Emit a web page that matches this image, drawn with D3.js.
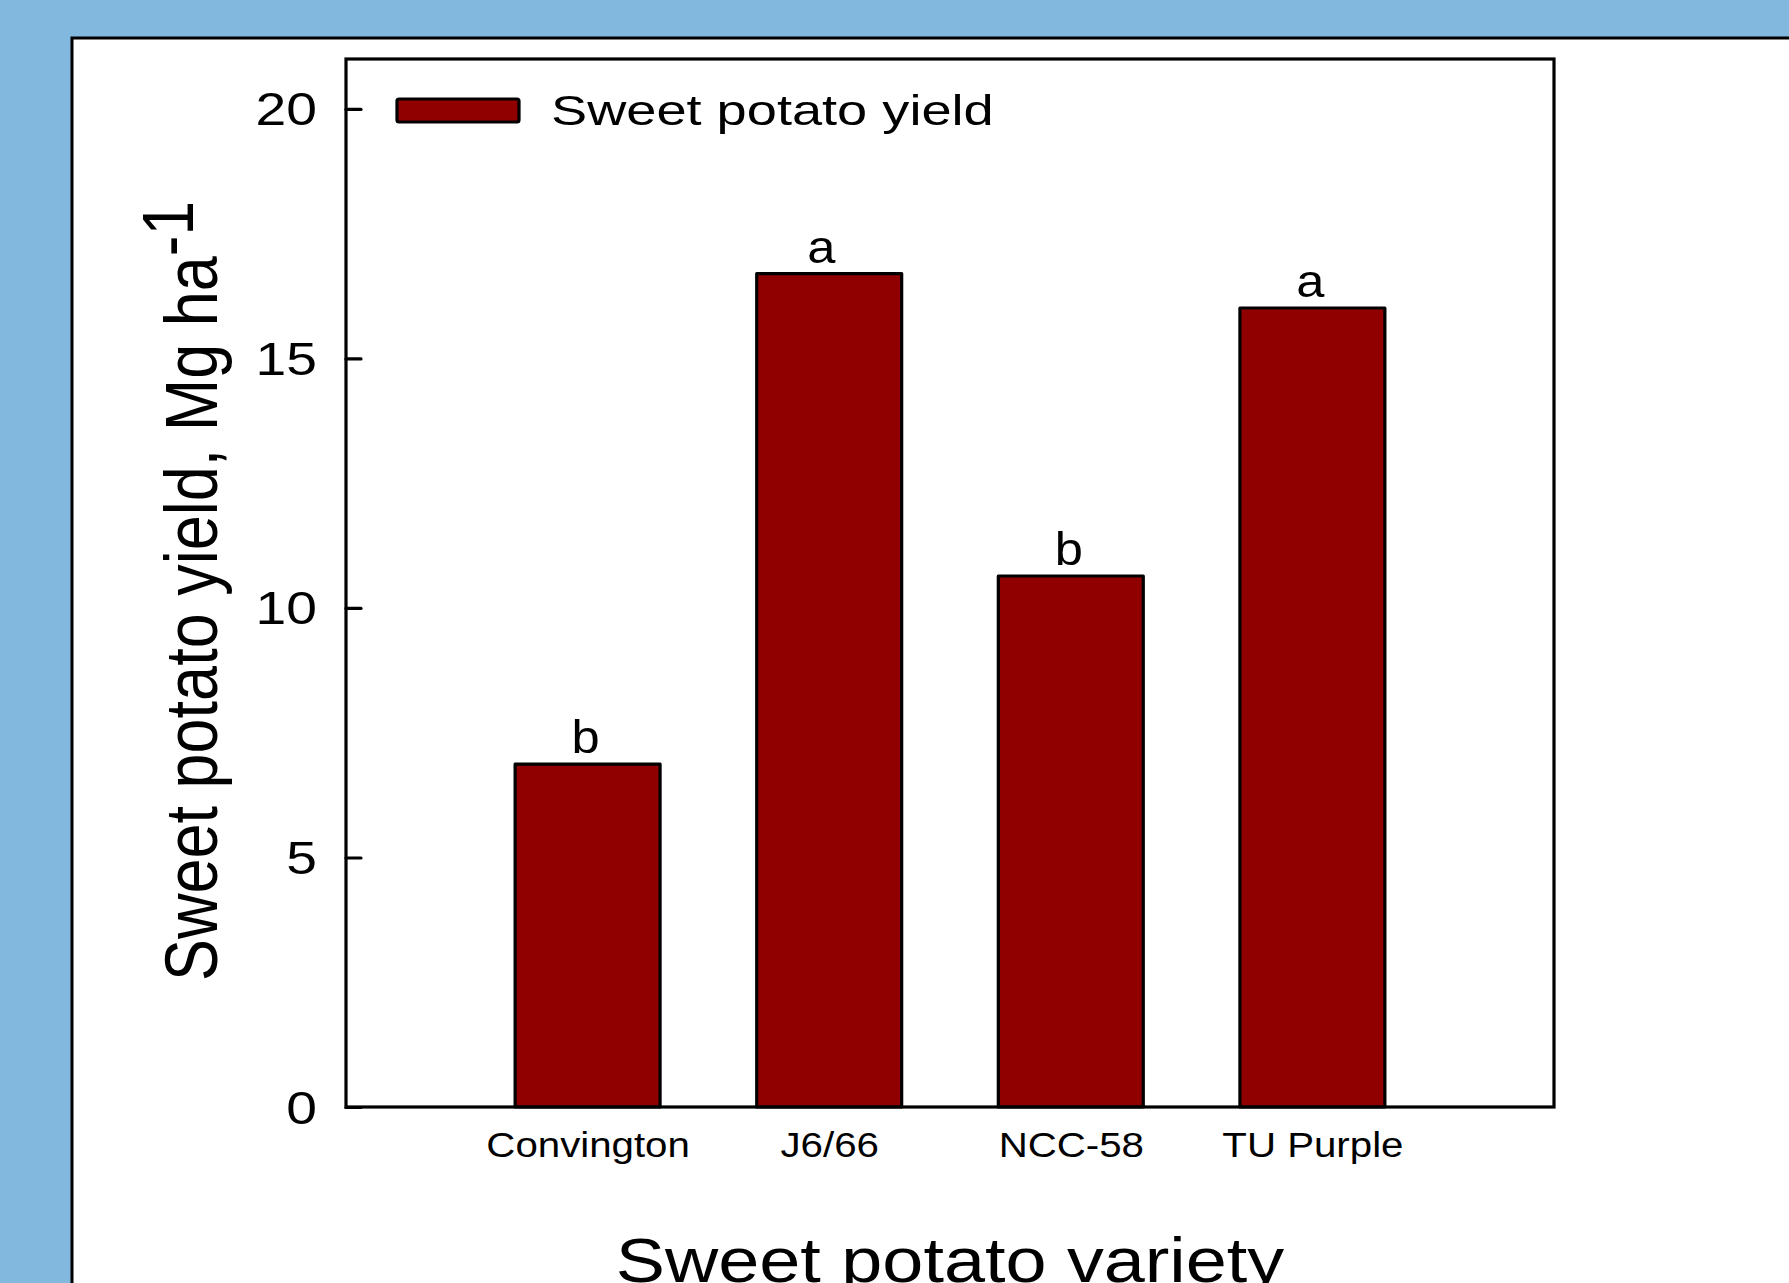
<!DOCTYPE html>
<html>
<head>
<meta charset="utf-8">
<script src="https://cdn.jsdelivr.net/npm/d3@7"></script>
<style>
  html, body { margin: 0; padding: 0; background: #82b7de; overflow: hidden; }
  svg { display: block; }
  text { font-family: "Liberation Sans", Arial, sans-serif; fill: #000; }
</style>
</head>
<body>
<svg id="chart" width="1789" height="1283"></svg>
<script>
// ---- data ----
const categories = ["Convington", "J6/66", "NCC-58", "TU Purple"];
const yieldValues = [6.87, 16.70, 10.64, 16.01];
const groupLetters = ["b", "a", "b", "a"];
const yTicks = [0, 5, 10, 15, 20];
const seriesName = "Sweet potato yield";
const yTitle = "Sweet potato yield, Mg ha";
const yTitleSup = "-1";
const xTitle = "Sweet potato variety";

// ---- layout ----
const W = 1789, H = 1283;
const frame = { left: 346, right: 1554, top: 59, bottom: 1107 };
const barColor = "#900000";

const svg = d3.select("#chart");

// background + white panel
svg.append("rect").attr("x", 0).attr("y", 0).attr("width", W).attr("height", H).attr("fill", "#82b7de");
svg.append("rect").attr("x", 72).attr("y", 38).attr("width", W).attr("height", H)
  .attr("fill", "#fff").attr("stroke", "#000").attr("stroke-width", 3);

const x = d3.scalePoint().domain(categories).range([frame.left, frame.right]).padding(1);
const y = d3.scaleLinear().domain([0, 21]).range([frame.bottom, frame.top]);
const barW = x.step() * 0.6;

// bars
const data = categories.map((c, i) => ({ c, v: yieldValues[i], g: groupLetters[i] }));
svg.append("g").selectAll("rect").data(data).join("rect")
  .attr("x", d => x(d.c) - barW / 2)
  .attr("y", d => y(d.v))
  .attr("width", barW)
  .attr("height", d => y(0) - y(d.v))
  .attr("fill", barColor)
  .attr("stroke", "#000")
  .attr("stroke-width", 3.2)
  .attr("stroke-linejoin", "round");

// helper for horizontally stretched text
function stretched(sel, tx, ty, k) {
  return sel.attr("x", 0).attr("y", 0).attr("transform", `translate(${tx},${ty}) scale(${k},1)`);
}

// significance letters
svg.append("g").selectAll("text").data(data).join("text")
  .attr("text-anchor", "middle")
  .attr("font-size", 46)
  .text(d => d.g)
  .each(function (d, i) { stretched(d3.select(this), x(d.c) - (i === 1 ? 8 : 2), y(d.v) - 11, 1.1); });

// frame
svg.append("rect")
  .attr("x", frame.left).attr("y", frame.top)
  .attr("width", frame.right - frame.left).attr("height", frame.bottom - frame.top)
  .attr("fill", "none").attr("stroke", "#000").attr("stroke-width", 3.2);

// y axis
const yAxis = d3.axisLeft(y).tickValues(yTicks).tickSizeInner(-15).tickSizeOuter(0).tickPadding(29);
const gy = svg.append("g").attr("transform", `translate(${frame.left},0)`).call(yAxis);
gy.select(".domain").remove();
gy.selectAll(".tick line").attr("stroke", "#000").attr("stroke-width", 3.2).attr("stroke-linecap", "round");
gy.selectAll(".tick text")
  .attr("font-size", 46)
  .attr("font-family", "Liberation Sans, Arial, sans-serif")
  .attr("fill", "#000")
  .attr("text-anchor", "end")
  .attr("dy", null)
  .each(function () { stretched(d3.select(this), -29, 16, 1.2); });

// x axis labels (no tick marks)
const xAxis = d3.axisBottom(x).tickSize(0).tickPadding(0);
const gx = svg.append("g").attr("transform", `translate(0,${frame.bottom})`).call(xAxis);
gx.select(".domain").remove();
gx.selectAll(".tick text")
  .attr("font-size", 35)
  .attr("font-family", "Liberation Sans, Arial, sans-serif")
  .attr("fill", "#000")
  .attr("dy", null)
  .each(function () { stretched(d3.select(this), 0, 50, 1.15); });

// legend
const lg = svg.append("g");
lg.append("rect").attr("x", 397).attr("y", 99).attr("width", 122).attr("height", 23)
  .attr("rx", 2).attr("fill", barColor).attr("stroke", "#000").attr("stroke-width", 3.2);
lg.append("text").attr("font-size", 43).text(seriesName)
  .call(s => stretched(s, 551, 125, 1.26));

// y title
const yt = svg.append("text")
  .attr("font-size", 63)
  .attr("transform", `translate(217,981) scale(1.18,1) rotate(-90)`);
yt.append("tspan").text(yTitle);
yt.append("tspan").attr("font-size", 62).attr("dy", -20).text(yTitleSup);

// x title
svg.append("text").attr("font-size", 62).attr("text-anchor", "middle").text(xTitle)
  .call(s => stretched(s, (frame.left + frame.right) / 2, 1282, 1.19));
</script>
</body>
</html>
